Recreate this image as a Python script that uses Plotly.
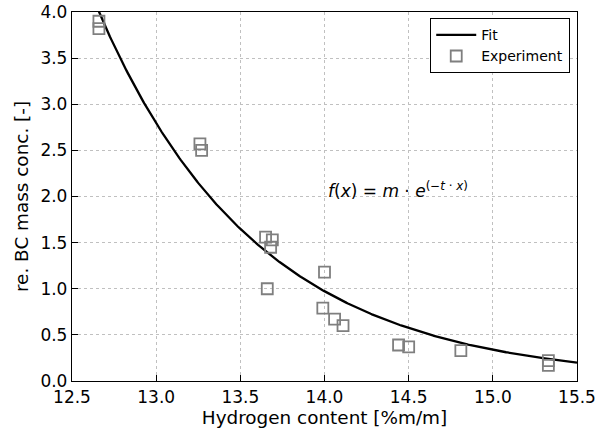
import numpy as np
import plotly.graph_objects as go

hydrogen = [12.66, 12.66, 13.26, 13.27, 13.65, 13.69, 13.68, 13.66, 14.00,
            13.99, 14.06, 14.11, 14.44, 14.50, 14.81, 15.33, 15.33]
bc_conc = [3.90, 3.82, 2.57, 2.50, 1.56, 1.53, 1.45, 1.00, 1.18,
           0.79, 0.67, 0.60, 0.39, 0.37, 0.33, 0.22, 0.17]

# Fit parameters for f(x) = m * exp(-t * x)
fit_t = 1.055
fit_m = 4.0 * np.exp(fit_t * 12.66)

x_fit = np.linspace(12.5, 15.5, 400)
y_fit = fit_m * np.exp(-fit_t * x_fit)

x_ticks = [12.5, 13.0, 13.5, 14.0, 14.5, 15.0, 15.5]
y_ticks = [0.0, 0.5, 1.0, 1.5, 2.0, 2.5, 3.0, 3.5, 4.0]

fig = go.Figure()
fig.add_trace(go.Scatter(x=x_fit, y=y_fit, mode="lines", name="Fit",
                         line=dict(color="black", width=2.3)))
fig.add_trace(go.Scatter(x=hydrogen, y=bc_conc, mode="markers", name="Experiment",
                         marker=dict(symbol="square-open", size=11,
                                     color="#7f7f7f", line=dict(width=1.8, color="#7f7f7f"))))

fig.add_annotation(x=14.01, y=2.07, xanchor="left", yanchor="middle", showarrow=False,
                   text="<i>f</i>(<i>x</i>) = <i>m</i> · <i>e</i><sup>(−<i>t</i> · <i>x</i>)</sup>",
                   font=dict(size=17, color="black", family="DejaVu Sans"))

axis_common = dict(showline=True, linecolor="black", linewidth=1.3, mirror=True,
                   ticks="inside", ticklen=6, tickwidth=1.2, tickcolor="black",
                   showgrid=True, gridcolor="#c0c0c0", griddash="dot", gridwidth=1,
                   zeroline=False, automargin=False,
                   tickfont=dict(size=17, color="black", family="DejaVu Sans"))

fig.update_xaxes(range=[12.5, 15.5], tickvals=x_ticks,
                 ticktext=[f"{v:.1f}" for v in x_ticks],
                 title=dict(text="Hydrogen content [%m/m]",
                            font=dict(size=18.4, family="DejaVu Sans"), standoff=4),
                 **axis_common)
fig.update_yaxes(range=[0, 4.0], tickvals=y_ticks,
                 ticktext=[f"{v:.1f}" for v in y_ticks],
                 title=dict(text="re. BC mass conc. [-]",
                            font=dict(size=18.4, family="DejaVu Sans"), standoff=6),
                 **axis_common)

fig.update_layout(
    width=597, height=434,
    margin=dict(l=72, r=20, t=12, b=53),
    plot_bgcolor="white", paper_bgcolor="white",
    font=dict(family="DejaVu Sans", color="black", size=16),
    legend=dict(x=0.986, y=0.984, xanchor="right", yanchor="top",
                bgcolor="white", bordercolor="black", borderwidth=1.3,
                font=dict(size=14, family="DejaVu Sans"), tracegroupgap=0, itemwidth=40),
)

fig.write_html("out.html", config={"displayModeBar": False},
               post_script="document.body.style.margin='0';")
